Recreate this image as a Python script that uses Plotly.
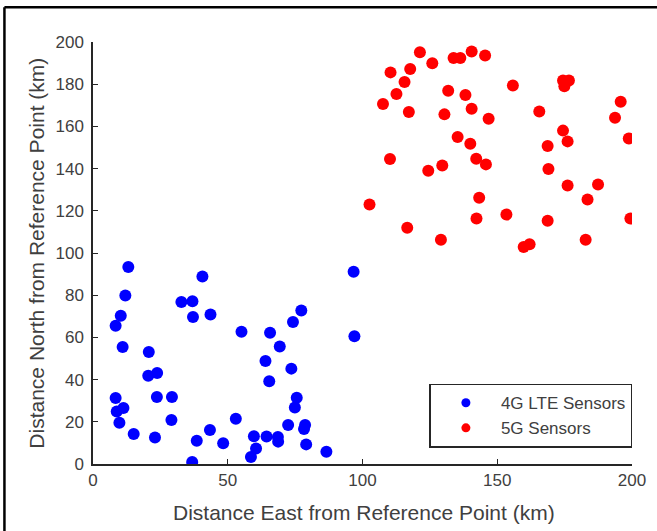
import plotly.graph_objects as go

# Sensor positions (km east, km north of the reference point)
lte_east = [13.1, 12.0, 10.3, 8.4, 11.0, 32.8, 36.9, 40.6, 37.1, 43.6,
            55.1, 65.7, 20.7, 20.5, 23.8, 8.4, 23.7, 29.3, 11.3, 8.8,
            9.8, 29.1, 15.1, 23.0, 53.0, 43.4, 38.5, 48.3, 36.8, 59.7,
            60.5, 58.6, 64.4, 64.0, 65.4, 96.7, 97.0, 77.3, 74.2, 69.3,
            73.6, 75.6, 74.9, 72.4, 78.7, 78.3, 79.1, 86.6, 68.6, 68.7]
lte_north = [93.4, 79.9, 70.3, 65.5, 55.4, 76.8, 77.1, 88.9, 69.7, 70.9,
             62.7, 62.2, 53.1, 41.8, 43.1, 31.3, 31.8, 31.8, 26.5, 24.9,
             19.6, 20.8, 14.2, 12.6, 21.5, 16.1, 11.0, 9.8, 0.9, 13.2,
             7.4, 3.3, 13.0, 48.8, 39.2, 91.1, 60.5, 72.7, 67.3, 55.7,
             45.2, 31.4, 26.8, 18.5, 18.5, 16.6, 9.3, 5.8, 12.8, 10.6]

nr_east = [121.3, 125.9, 133.8, 136.3, 140.5, 145.5, 110.4, 117.7, 115.6, 112.6,
           107.6, 117.2, 131.8, 138.2, 130.4, 140.5, 146.8, 135.3, 140.0, 142.2,
           145.8, 110.2, 124.4, 129.6, 143.3, 102.6, 142.3, 116.6, 129.1, 155.8,
           174.4, 176.6, 174.9, 165.6, 195.8, 193.7, 198.8, 174.4, 176.1, 168.7,
           169.0, 176.1, 187.4, 183.5, 153.4, 168.7, 199.4, 162.0, 159.8, 182.8]
nr_north = [195.1, 189.9, 192.4, 192.4, 195.5, 193.6, 185.6, 187.2, 181.0, 175.4,
            170.6, 166.8, 176.9, 174.9, 165.7, 168.4, 163.6, 155.0, 151.8, 144.7,
            142.0, 144.5, 139.0, 141.5, 126.2, 123.0, 116.3, 112.0, 106.3, 179.4,
            181.8, 181.8, 179.0, 167.1, 171.7, 164.1, 154.3, 158.0, 152.9, 150.7,
            139.8, 132.0, 132.5, 125.4, 118.2, 115.3, 116.3, 104.1, 102.8, 106.3]

x_ticks = [0, 50, 100, 150, 200]
y_ticks = [0, 20, 40, 60, 80, 100, 120, 140, 160, 180, 200]

FONT = "Liberation Sans, Arial, sans-serif"
TEXT = "#404040"
AXIS = "#262626"

W, H = 657, 531
L, R, T, B = 93, 25.4, 42.3, 66.7
pw, ph = W - L - R, H - T - B

fig = go.Figure()

fig.add_trace(go.Scatter(x=lte_east, y=lte_north, mode="markers",
                         marker=dict(color="#0000ff", size=12),
                         name="4G LTE Sensors", showlegend=False))
fig.add_trace(go.Scatter(x=nr_east, y=nr_north, mode="markers",
                         marker=dict(color="#ff0000", size=12),
                         name="5G Sensors", showlegend=False))

# Legend entries with smaller symbols
fig.add_trace(go.Scatter(x=[None], y=[None], mode="markers",
                         marker=dict(color="#0000ff", size=9),
                         name="4G LTE Sensors"))
fig.add_trace(go.Scatter(x=[None], y=[None], mode="markers",
                         marker=dict(color="#ff0000", size=9),
                         name="5G Sensors"))

axis_common = dict(showgrid=False, zeroline=False, showline=True,
                   linecolor=AXIS, linewidth=1.5, ticks="inside",
                   ticklen=5, tickwidth=1.2, tickcolor=AXIS,
                   tickfont=dict(family=FONT, size=17, color=TEXT))

fig.update_xaxes(range=[0, 200], tickvals=x_ticks, **axis_common)
fig.update_yaxes(range=[0, 200], tickvals=y_ticks, ticklabelstandoff=4,
                 **axis_common)

# Axis titles
fig.add_annotation(text="Distance East from Reference Point (km)",
                   xref="paper", yref="paper",
                   x=(364 - L) / pw, y=(H - B - 513) / ph,
                   xanchor="center", yanchor="middle", showarrow=False,
                   font=dict(family=FONT, size=21, color=TEXT))
fig.add_annotation(text="Distance North from Reference Point (km)",
                   xref="paper", yref="paper", textangle=-90,
                   x=(37 - L) / pw, y=(H - B - 253) / ph,
                   xanchor="center", yanchor="middle", showarrow=False,
                   font=dict(family=FONT, size=21, color=TEXT))

# Figure frame along the top and left edges
fx = (4.5 - L) / pw
fy = (H - B - 7.5) / ph
fig.add_shape(type="line", xref="paper", yref="paper",
              x0=fx, y0=fy, x1=(W + 5 - L) / pw, y1=fy,
              line=dict(color="black", width=2.5))
fig.add_shape(type="line", xref="paper", yref="paper",
              x0=fx, y0=fy, x1=fx, y1=(H - B - H - 5) / ph,
              line=dict(color="black", width=2.5))

fig.update_layout(
    width=W, height=H,
    margin=dict(l=L, r=R, t=T, b=B, autoexpand=False),
    paper_bgcolor="white", plot_bgcolor="white",
    legend=dict(x=(632 - L) / pw, y=(H - B - 416) / ph,
                xanchor="right", yanchor="middle",
                bgcolor="white", bordercolor=AXIS, borderwidth=1.5,
                itemwidth=60, tracegroupgap=0,
                font=dict(family=FONT, size=17, color=TEXT)),
)

fig.write_html("out.html")
